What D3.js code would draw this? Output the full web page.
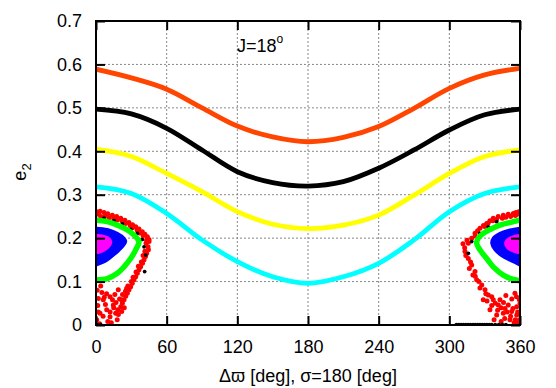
<!DOCTYPE html>
<html><head><meta charset="utf-8">
<script src="https://cdn.jsdelivr.net/npm/d3@7"></script>
<style>body{margin:0;background:#fff}svg{display:block}text{font-family:"Liberation Sans",Arial,sans-serif}</style>
</head><body><div id="chart"></div>
<script>
const xTicks = [0, 60, 120, 180, 240, 300, 360];
const yTicks = [0, 0.1, 0.2, 0.3, 0.4, 0.5, 0.6, 0.7];
const curveDeg = [0, 30, 60, 90, 120, 150, 180, 210, 240, 270, 300, 330, 360];
const orangeE = [0.589, 0.569, 0.543, 0.500, 0.458, 0.433, 0.422, 0.432, 0.457, 0.499, 0.545, 0.576, 0.591];
const blackE  = [0.497, 0.486, 0.453, 0.403, 0.353, 0.328, 0.320, 0.330, 0.361, 0.403, 0.449, 0.484, 0.497];
const yellowE = [0.405, 0.388, 0.349, 0.307, 0.261, 0.232, 0.222, 0.230, 0.253, 0.299, 0.349, 0.388, 0.403];
const cyanE   = [0.318, 0.303, 0.257, 0.196, 0.146, 0.111, 0.096, 0.111, 0.142, 0.196, 0.261, 0.303, 0.318];

// island outlines [deg, e]
const greenLeft = [[0,0.242],[9.6,0.238],[18.1,0.230],[26.6,0.219],[32.3,0.207],[36.5,0.192],[33.7,0.173],[29.4,0.153],[23.8,0.134],[18.1,0.119],[9.6,0.107],[0,0.104]];
const greenRight = [[360,0.242],[354.3,0.238],[343,0.230],[334.5,0.220],[328.8,0.211],[324.6,0.200],[323.2,0.188],[326,0.173],[331.7,0.153],[337.3,0.134],[345.8,0.115],[354.3,0.105],[360,0.102]];
const blueLeft = [[0,0.223],[9.6,0.220],[18.1,0.211],[23.8,0.200],[25.2,0.192],[22.4,0.180],[16.7,0.165],[9.6,0.150],[0,0.138]];
const blueRight = [[360,0.223],[351.5,0.219],[343,0.211],[337.3,0.200],[336,0.188],[338.8,0.173],[345.8,0.157],[354.3,0.146],[360,0.138]];
const magentaLeft = [[0,0.207],[6.8,0.205],[11,0.200],[13,0.192],[11,0.180],[5.4,0.169],[0,0.165]];
const magentaRight = [[360,0.207],[353,0.203],[348.7,0.196],[347.3,0.188],[349.2,0.177],[354.3,0.169],[360,0.165]];

const redDots = [
 [0.6,0.261],[3.5,0.262],[6.8,0.259],[10,0.256],[13.9,0.253],[17.5,0.250],[21,0.246],[24.5,0.241],[28,0.236],[31,0.231],[33.7,0.226],[36.5,0.221],[39.3,0.215],[41.5,0.209],[43.6,0.203],[45,0.197],[45,0.192],[44.2,0.180],[44.5,0.173],[43,0.165],[42,0.158],[40.8,0.150],[39.5,0.142],[37.9,0.134],[36.5,0.127],[35.1,0.119],[33.7,0.111],[32.3,0.104],[30.8,0.096],[29.4,0.088],[28,0.081],[26.6,0.073],[25.2,0.066],[23.8,0.058],[22.4,0.050],[21,0.042],[18.5,0.035],[16.7,0.027],
 [2,0.255],[8,0.252],[15,0.246],[22,0.240],[29,0.229],[35,0.218],[40,0.206],[42.5,0.188],
 [4,0.250],[11,0.247],[18,0.242],[25,0.234],[31,0.224],[37,0.212],[43,0.195],[41.5,0.170],[40,0.160],[38.5,0.145],[36,0.135],[34,0.122],[31.5,0.110],[30,0.100],[27,0.090],[25,0.078],[22.5,0.070],[20,0.060],[17,0.052],[15,0.040],[12,0.030],[6,0.020],[2,0.030],[1,0.080],[4,0.090],[9,0.072],[14,0.058],[19,0.024],[24,0.040],[10,0.008],[7,0.064],
 [2,0.061],[6.2,0.058],[11.9,0.065],[18.9,0.081],[26,0.084],[21.8,0.058],[14.7,0.046],[9.1,0.035],[3.4,0.027],[11.9,0.019],[0.6,0.012],[21.8,0.031],[1.5,0.045],[5,0.075],[16,0.070],[8,0.047],[13,0.005],[3,0.003],[18,0.012],
 [359,0.261],[356.5,0.259],[354.3,0.257],[350,0.255],[345.8,0.253],[341.5,0.250],[337.3,0.246],[334.5,0.240],[331.7,0.234],[329,0.229],[326,0.223],[324,0.217],[321.8,0.211],[319,0.200],[316.1,0.188],[311.6,0.187],[313.3,0.169],[316.1,0.153],[319,0.138],[321.8,0.123],[323.2,0.104],[327.5,0.092],[330.3,0.081],[333.1,0.069],[337.3,0.058],[341.6,0.046],[347.3,0.038],[352.9,0.031],[357.2,0.023],[359.5,0.012],
 [356,0.252],[348,0.248],[340,0.243],[333,0.235],[313,0.178],[318,0.145],[320,0.115],[325,0.100],
 [358,0.255],[352,0.250],[345,0.246],[337,0.240],[330,0.227],[322,0.205],[315,0.195],[314,0.160],[317,0.130],[322,0.112],[326,0.085],[331,0.072],[336,0.065],[339,0.050],[344,0.040],[349,0.030],[354,0.038],[358,0.030],[346,0.052],[352,0.020],[356,0.012],[341,0.034],[336,0.045],[332,0.055],[347,0.015],[360,0.050],[357,0.065],
 [343,0.058],[350,0.046],[357.2,0.042],[345.8,0.027],[340.2,0.023],[351.5,0.012],[358.5,0.004],[359.5,0.058],[355.7,0.073],[334.5,0.035],[328.8,0.058],[348,0.068],[353,0.060],[338,0.012],[344,0.008],[355,0.005]
];
const blackDots = [
 [6.8,0.246],[15.3,0.240],[22.4,0.233],[29.4,0.220],[35.1,0.211],[39.3,0.197],[40.8,0.180],[42.2,0.161],[41.3,0.123],[1,0.001],[4,0.001],
 [340.2,0.238],[333.1,0.226],[326,0.211],[319,0.192],[316.1,0.165],
 [306,0.001],[308,0.001],[310,0.001],[312,0.001],[314,0.001],[316,0.001],[318,0.001],[320,0.001],[322,0.001],[324,0.001],[326,0.001],[328,0.001],[330,0.001],[332,0.001],[334,0.001],[336,0.001],[339,0.001],[342,0.001],[345,0.001],[348,0.001]
];

const W = 556, H = 388;
const pL = 96, pR = 520, pT = 21, pB = 325;
const x = d3.scaleLinear().domain([0, 360]).range([pL, pR]);
const y = d3.scaleLinear().domain([0, 0.7]).range([pB, pT]);

const svg = d3.select("#chart").append("svg").attr("width", W).attr("height", H);
svg.append("defs").append("clipPath").attr("id", "clip")
  .append("rect").attr("x", pL).attr("y", pT).attr("width", pR - pL).attr("height", pB - pT);

const grid = svg.append("g").attr("stroke", "#888").attr("stroke-width", 1).attr("stroke-dasharray", "2,2");
xTicks.slice(1, -1).forEach(t => grid.append("line").attr("x1", x(t)).attr("x2", x(t)).attr("y1", pT).attr("y2", pB));
yTicks.slice(1, -1).forEach(t => grid.append("line").attr("x1", pL).attr("x2", pR).attr("y1", y(t)).attr("y2", y(t)));

const plot = svg.append("g").attr("clip-path", "url(#clip)");
const line = d3.line().x(d => x(d[0])).y(d => y(d[1])).curve(d3.curveCatmullRom);

[[orangeE, "#ff4500"], [blackE, "#000"], [yellowE, "#ffff00"], [cyanE, "#00ffff"]].forEach(([vals, c]) => {
  plot.append("path").datum(curveDeg.map((d, i) => [d, vals[i]]))
    .attr("d", line).attr("fill", "none").attr("stroke", c).attr("stroke-width", 4.8);
});

plot.selectAll(".red").data(redDots).enter().append("circle")
  .attr("cx", d => x(d[0])).attr("cy", d => y(d[1])).attr("r", 2.5).attr("fill", "#ff0000");
plot.selectAll(".blk").data(blackDots).enter().append("circle")
  .attr("cx", d => x(d[0])).attr("cy", d => y(d[1])).attr("r", 1.9).attr("fill", "#000");
[greenLeft, greenRight].forEach(g => plot.append("path").datum(g).attr("d", line)
  .attr("fill", "none").attr("stroke", "#00ff00").attr("stroke-width", 5.5));
[blueLeft, blueRight].forEach(g => plot.append("path").datum(g).attr("d", line)
  .attr("fill", "#0000ff").attr("stroke", "#0000ff").attr("stroke-width", 3));
[magentaLeft, magentaRight].forEach(g => plot.append("path").datum(g).attr("d", line)
  .attr("fill", "#ff00ff").attr("stroke", "#ff00ff").attr("stroke-width", 2));

svg.append("rect").attr("x", pL).attr("y", pT).attr("width", pR - pL).attr("height", pB - pT)
  .attr("fill", "none").attr("stroke", "#000").attr("stroke-width", 2);

const tl = 9;
svg.append("g").attr("transform", `translate(0,${pB})`)
  .call(d3.axisBottom(x).tickValues(xTicks).tickSizeInner(-tl).tickSizeOuter(0).tickPadding(15).tickFormat(d3.format("d")))
  .call(g => g.select(".domain").remove())
  .call(g => g.selectAll("line").attr("stroke-width", 2))
  .call(g => g.selectAll("text").attr("font-size", 18).attr("fill", "#000"));
svg.append("g").attr("transform", `translate(0,${pT})`)
  .call(d3.axisTop(x).tickValues(xTicks).tickSizeInner(-tl).tickSizeOuter(0).tickFormat(""))
  .call(g => g.select(".domain").remove())
  .call(g => g.selectAll("line").attr("stroke-width", 2));
svg.append("g").attr("transform", `translate(${pL},0)`)
  .call(d3.axisLeft(y).tickValues(yTicks).tickSizeInner(-tl).tickSizeOuter(0).tickPadding(14).tickFormat(d => d === 0 ? "0" : d3.format(".1f")(d)))
  .call(g => g.select(".domain").remove())
  .call(g => g.selectAll("line").attr("stroke-width", 2))
  .call(g => g.selectAll("text").attr("font-size", 18).attr("fill", "#000"));
svg.append("g").attr("transform", `translate(${pR},0)`)
  .call(d3.axisRight(y).tickValues(yTicks).tickSizeInner(-tl).tickSizeOuter(0).tickFormat(""))
  .call(g => g.select(".domain").remove())
  .call(g => g.selectAll("line").attr("stroke-width", 2));

svg.append("text").attr("x", 308).attr("y", 382).attr("text-anchor", "middle").attr("font-size", 18)
  .text("Δϖ [deg], σ=180 [deg]");
const yl = svg.append("text").attr("transform", "translate(26,172) rotate(-90)").attr("text-anchor", "middle").attr("font-size", 18);
yl.append("tspan").text("e");
yl.append("tspan").attr("font-size", 13).attr("dy", 5).text("2");
const jl = svg.append("text").attr("x", 237).attr("y", 52).attr("font-size", 18);
jl.append("tspan").text("J=18");
jl.append("tspan").attr("font-size", 12).attr("dy", -9).text("o");
</script></body></html>
